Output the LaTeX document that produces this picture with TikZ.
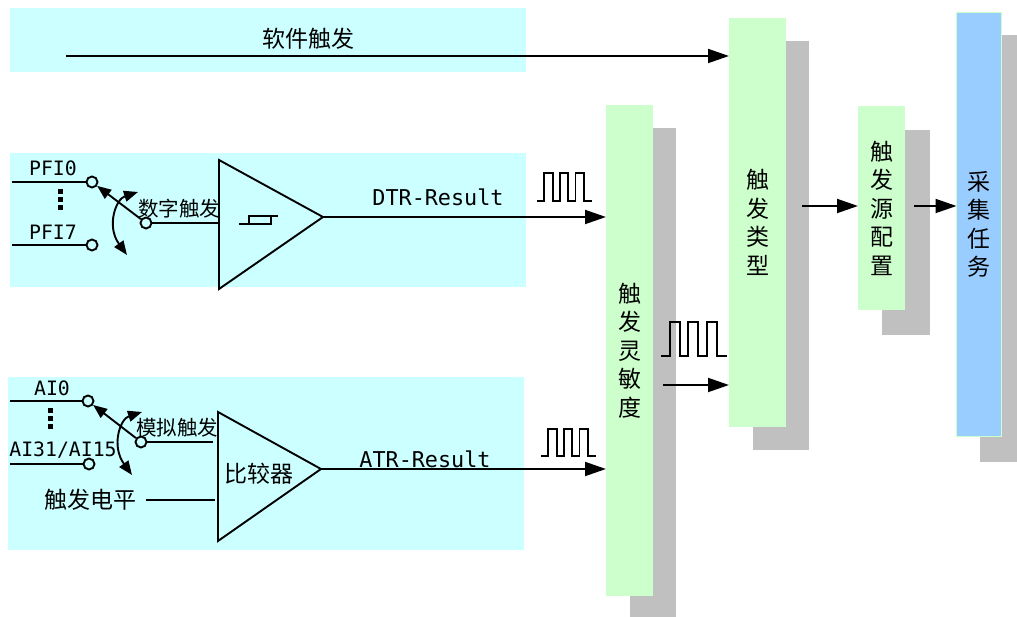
\documentclass[tikz,border=0pt]{standalone}
\usepackage{fontspec}
\setmainfont{Noto Sans CJK SC}
\newfontfamily\latinfont{DejaVu Sans Mono}
\usepackage{tikz}
\usetikzlibrary{positioning, arrows.meta}
\definecolor{panelcyan}{HTML}{CCFFFF}
\definecolor{blockgreen}{HTML}{CCFFCC}
\definecolor{blockblue}{HTML}{99CCFF}
\definecolor{shadowgray}{HTML}{C0C0C0}
\tikzset{
  wire/.style={line width=1.9pt,black},
  flow/.style={wire,-{Triangle[length=21pt,width=14pt]}},
  swing/.style={wire,{Triangle[length=14pt,width=11pt]}-{Triangle[length=14pt,width=11pt]}},
  terminal/.style={circle,draw,line width=1.9pt,fill=panelcyan,inner sep=0pt,minimum size=11pt},
  block/.style={anchor=north west,fill=blockgreen,inner sep=0pt,outer sep=0pt,align=center,font=\fontsize{23}{28.5}\selectfont},
  bigtext/.style={inner sep=0pt,font=\fontsize{23}{28}\selectfont},
  smalltext/.style={inner sep=0pt,font=\fontsize{20.5}{24}\selectfont},
  pinname/.style={inner sep=0pt,font=\latinfont\fontsize{19.8}{24}\selectfont},
  resultname/.style={inner sep=0pt,font=\latinfont\fontsize{21.8}{24}\selectfont},
  amp/.style={line width=1.9pt,line join=miter},
}
\newcommand{\pulsetrain}[3]{%
  \draw[wire] (#1) -- ++(#2*0.9,0) -- ++(0,-#3) -- ++(#2,0) -- ++(0,#3) -- ++(#2*0.9,0) -- ++(0,-#3) -- ++(#2,0)
    -- ++(0,#3) -- ++(#2*0.9,0) -- ++(0,-#3) -- ++(#2,0) -- ++(0,#3) -- ++(#2,0);}
\begin{document}
\begin{tikzpicture}[x=1pt,y=-1pt]
  \useasboundingbox (0,0) rectangle (1017,617);
  % input panels
  \fill[panelcyan] (10,8) rectangle (526,72);
  \fill[panelcyan] (10,153) rectangle (526,287);
  \fill[panelcyan] (8,377) rectangle (524,550);
  % shadows
  \fill[shadowgray] (630,128) rectangle (676,617);
  \fill[shadowgray] (753,41) rectangle (809,450);
  \fill[shadowgray] (882,130) rectangle (930,335);
  \fill[shadowgray] (980,35) rectangle (1017,462);

  \node[block,minimum width=47pt,minimum height=491pt] (sensitivity) at (606,105) {触\\发\\灵\\敏\\度};
  \node[block,minimum width=57pt,minimum height=409pt] (trigtype) at (729,18) {触\\发\\类\\型};
  \node[block,minimum width=47pt,minimum height=204pt] (srcconfig) at (858,106) {触\\发\\源\\配\\置};
  \node[block,fill=blockblue,draw=blockgreen,line width=1.5pt,minimum width=45pt,minimum height=424pt] (acqtask) at (956.5,12.5) {采\\集\\任\\务};

  % software trigger
  \node[bigtext] (softlabel) at (308,39) {软件触发};
  \coordinate (softstart) at (66,56);
  \draw[flow] (softstart) -- (softstart -| trigtype.west);

  % digital trigger
  \coordinate (dtrtop) at (219,160);
  \coordinate (dtrbot) at (219,289);
  \coordinate (dtrtip) at (323,217);
  \draw[amp] (dtrtop) -- (dtrtip) -- (dtrbot) -- cycle;
  \node[pinname] (pfizero) at (53,168) {PFI0};
  \node[pinname] (pfiseven) at (53,232) {PFI7};
  \coordinate (pfizeroin) at (12,182);
  \coordinate (pfisevenin) at (12,245);
  \node[terminal] (pfizeroend) at (92,182) {};
  \node[terminal] (pfisevenend) at (92,245) {};
  \node[terminal] (dtrpivot) at (146,223) {};
  \draw[wire] (pfizeroin) -- (pfizeroend);
  \draw[wire] (pfisevenin) -- (pfisevenend);
  \draw[wire] (dtrpivot) -- (dtrpivot -| dtrtop);
  \draw[wire,-{Triangle[length=14pt,width=11pt]}] (dtrpivot) -- (pfizeroend);
  \fill (58,189) rectangle (63,194);
  \fill (58,197) rectangle (63,202);
  \fill (58,205) rectangle (63,210);
  \coordinate (dtrswingA) at (138,192);
  \coordinate (dtrswingB) at (127,255);
  \draw[swing] (dtrswingA) .. controls (116,199) and (106,226) .. (dtrswingB);
  \node[smalltext] (digitallabel) at (179,209) {数字触发};
  % hysteresis mark
  \draw[wire] (239,224) -- (271,224) -- (271,216) -- (278,216);
  \draw[wire] (249,224) -- (249,216) -- (271,216);

  \node[resultname] (dtrlabel) at (438,197) {DTR-Result};
  \draw[flow] (dtrtip) -- (dtrtip -| sensitivity.west);
  \pulsetrain{537,201}{8.2}{28}

  % analog trigger
  \coordinate (atrtop) at (218,412);
  \coordinate (atrbot) at (218,541);
  \coordinate (atrtip) at (321,469);
  \draw[amp] (atrtop) -- (atrtip) -- (atrbot) -- cycle;
  \node[pinname] (aizero) at (52,388) {AI0};
  \node[pinname] (ailast) at (63,450) {AI31/AI15};
  \coordinate (aizeroin) at (10,401);
  \coordinate (ailastin) at (10,464);
  \node[terminal] (aizeroend) at (88,401) {};
  \node[terminal] (ailastend) at (89,464) {};
  \node[terminal] (atrpivot) at (141,442) {};
  \coordinate (atrpivotout) at (213,442);
  \draw[wire] (aizeroin) -- (aizeroend);
  \draw[wire] (ailastin) -- (ailastend);
  \draw[wire] (atrpivot) -- (atrpivotout);
  \draw[wire,-{Triangle[length=14pt,width=11pt]}] (atrpivot) -- (aizeroend);
  \fill (48,408) rectangle (53,413);
  \fill (48,416) rectangle (53,421);
  \fill (48,424) rectangle (53,429);
  \coordinate (atrswingA) at (142,412);
  \coordinate (atrswingB) at (132,475);
  \draw[swing] (atrswingA) .. controls (120,419) and (111,446) .. (atrswingB);
  \node[smalltext] (analoglabel) at (177,428) {模拟触发};
  \node[bigtext] (levellabel) at (90,500) {触发电平};
  \coordinate (levelstart) at (146,500);
  \coordinate (levelend) at (215,500);
  \draw[wire] (levelstart) -- (levelend);
  \node[bigtext] (comparelabel) at (259,474) {比较器};

  \node[resultname] (atrlabel) at (425,459) {ATR-Result};
  \draw[flow] (atrtip) -- (atrtip -| sensitivity.west);
  \pulsetrain{541,456}{8.2}{27}

  % between the blocks
  \coordinate (sensout) at (663,385);
  \draw[flow] (sensout) -- (sensout -| trigtype.west);
  \pulsetrain{661,356}{9.8}{34}
  \coordinate (typeout) at (802,206);
  \draw[flow] (typeout) -- (typeout -| srcconfig.west);
  \coordinate (srcout) at (914,206);
  \draw[flow] (srcout) -- (srcout -| acqtask.west);
\end{tikzpicture}
\end{document}
